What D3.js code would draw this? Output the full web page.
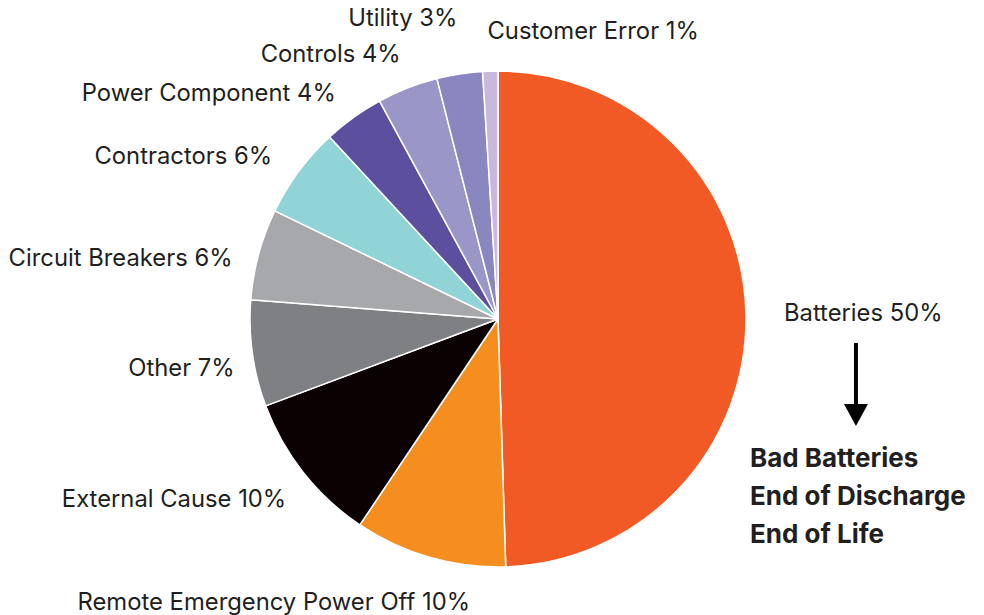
<!DOCTYPE html>
<html>
<head>
<meta charset="utf-8">
<script src="https://cdn.jsdelivr.net/npm/d3@7"></script>
<style>
  body { margin: 0; background: #fff; }
  text { font-family: Inter, "Open Sans", sans-serif; fill: #231f20; }
</style>
</head>
<body>
<svg id="chart" width="984" height="615"></svg>
<script>
(function(){
"use strict";

// data
const causes = ["Batteries", "Remote Emergency Power Off", "External Cause", "Other",
  "Circuit Breakers", "Contractors", "Power Component", "Controls", "Utility", "Customer Error"];
const shares = [50, 10, 10, 7, 6, 6, 4, 4, 3, 1];
const colours = ["#f15a24", "#f68d1f", "#0b0102", "#7f8083", "#a7a8ab",
  "#91d4d8", "#5b4f9e", "#9b96c8", "#8a86c0", "#c6b9dc"];
const batteryNotes = ["Bad Batteries", "End of Discharge", "End of Life"];

// label placement tweaks (layout only)
const nudge = [[11, -1], [48, 20], [4, 10], [9, 12], [0, 12], [-5, 2], [-2, -2], [3, -8], [2, -28], [-2, -12]];

const cx = 498, cy = 319, r = 248, labelR = 275;

const svg = d3.select("#chart");
const g = svg.append("g").attr("transform", "translate(" + cx + "," + cy + ")");

const pie = d3.pie().sort(null).value(d => d.v);
const arc = d3.arc().innerRadius(0).outerRadius(r);

const rows = causes.map((c, i) => ({name: c, v: shares[i], col: colours[i], i: i}));
const arcs = pie(rows);

g.selectAll("path.slice").data(arcs).enter().append("path")
  .attr("class", "slice")
  .attr("d", arc)
  .attr("fill", d => d.data.col)
  .attr("stroke", "#fff")
  .attr("stroke-width", 1.5)
  .attr("stroke-linejoin", "round");

g.selectAll("text.lab").data(arcs).enter().append("text")
  .attr("class", "lab")
  .attr("x", d => {
    const a = (d.startAngle + d.endAngle) / 2;
    return labelR * Math.sin(a) + nudge[d.data.i][0];
  })
  .attr("y", d => {
    const a = (d.startAngle + d.endAngle) / 2;
    return -labelR * Math.cos(a) + 7 + nudge[d.data.i][1];
  })
  .attr("text-anchor", d => {
    const a = (d.startAngle + d.endAngle) / 2;
    return a < Math.PI || a > 2 * Math.PI - 0.08 ? "start" : "end";
  })
  .style("font-size", "23.8px")
  .text(d => d.data.name + " " + d.data.v + "%");

// arrow under batteries label
const batt = arcs[0];
const bx = labelR * Math.sin((batt.startAngle + batt.endAngle) / 2) + 83;
g.append("line")
  .attr("x1", bx).attr("x2", bx)
  .attr("y1", 24).attr("y2", 88)
  .attr("stroke", "#000").attr("stroke-width", 4);
g.append("path")
  .attr("d", "M" + (bx - 12) + ",85 L" + (bx + 12) + ",85 L" + bx + ",107 Z")
  .attr("fill", "#000");

g.selectAll("text.note").data(batteryNotes).enter().append("text")
  .attr("class", "note")
  .attr("x", bx - 106)
  .attr("y", (d, i) => 148 + i * 38)
  .style("font-size", "26px")
  .style("font-weight", "700")
  .text(d => d);

})();
</script>
</body>
</html>
